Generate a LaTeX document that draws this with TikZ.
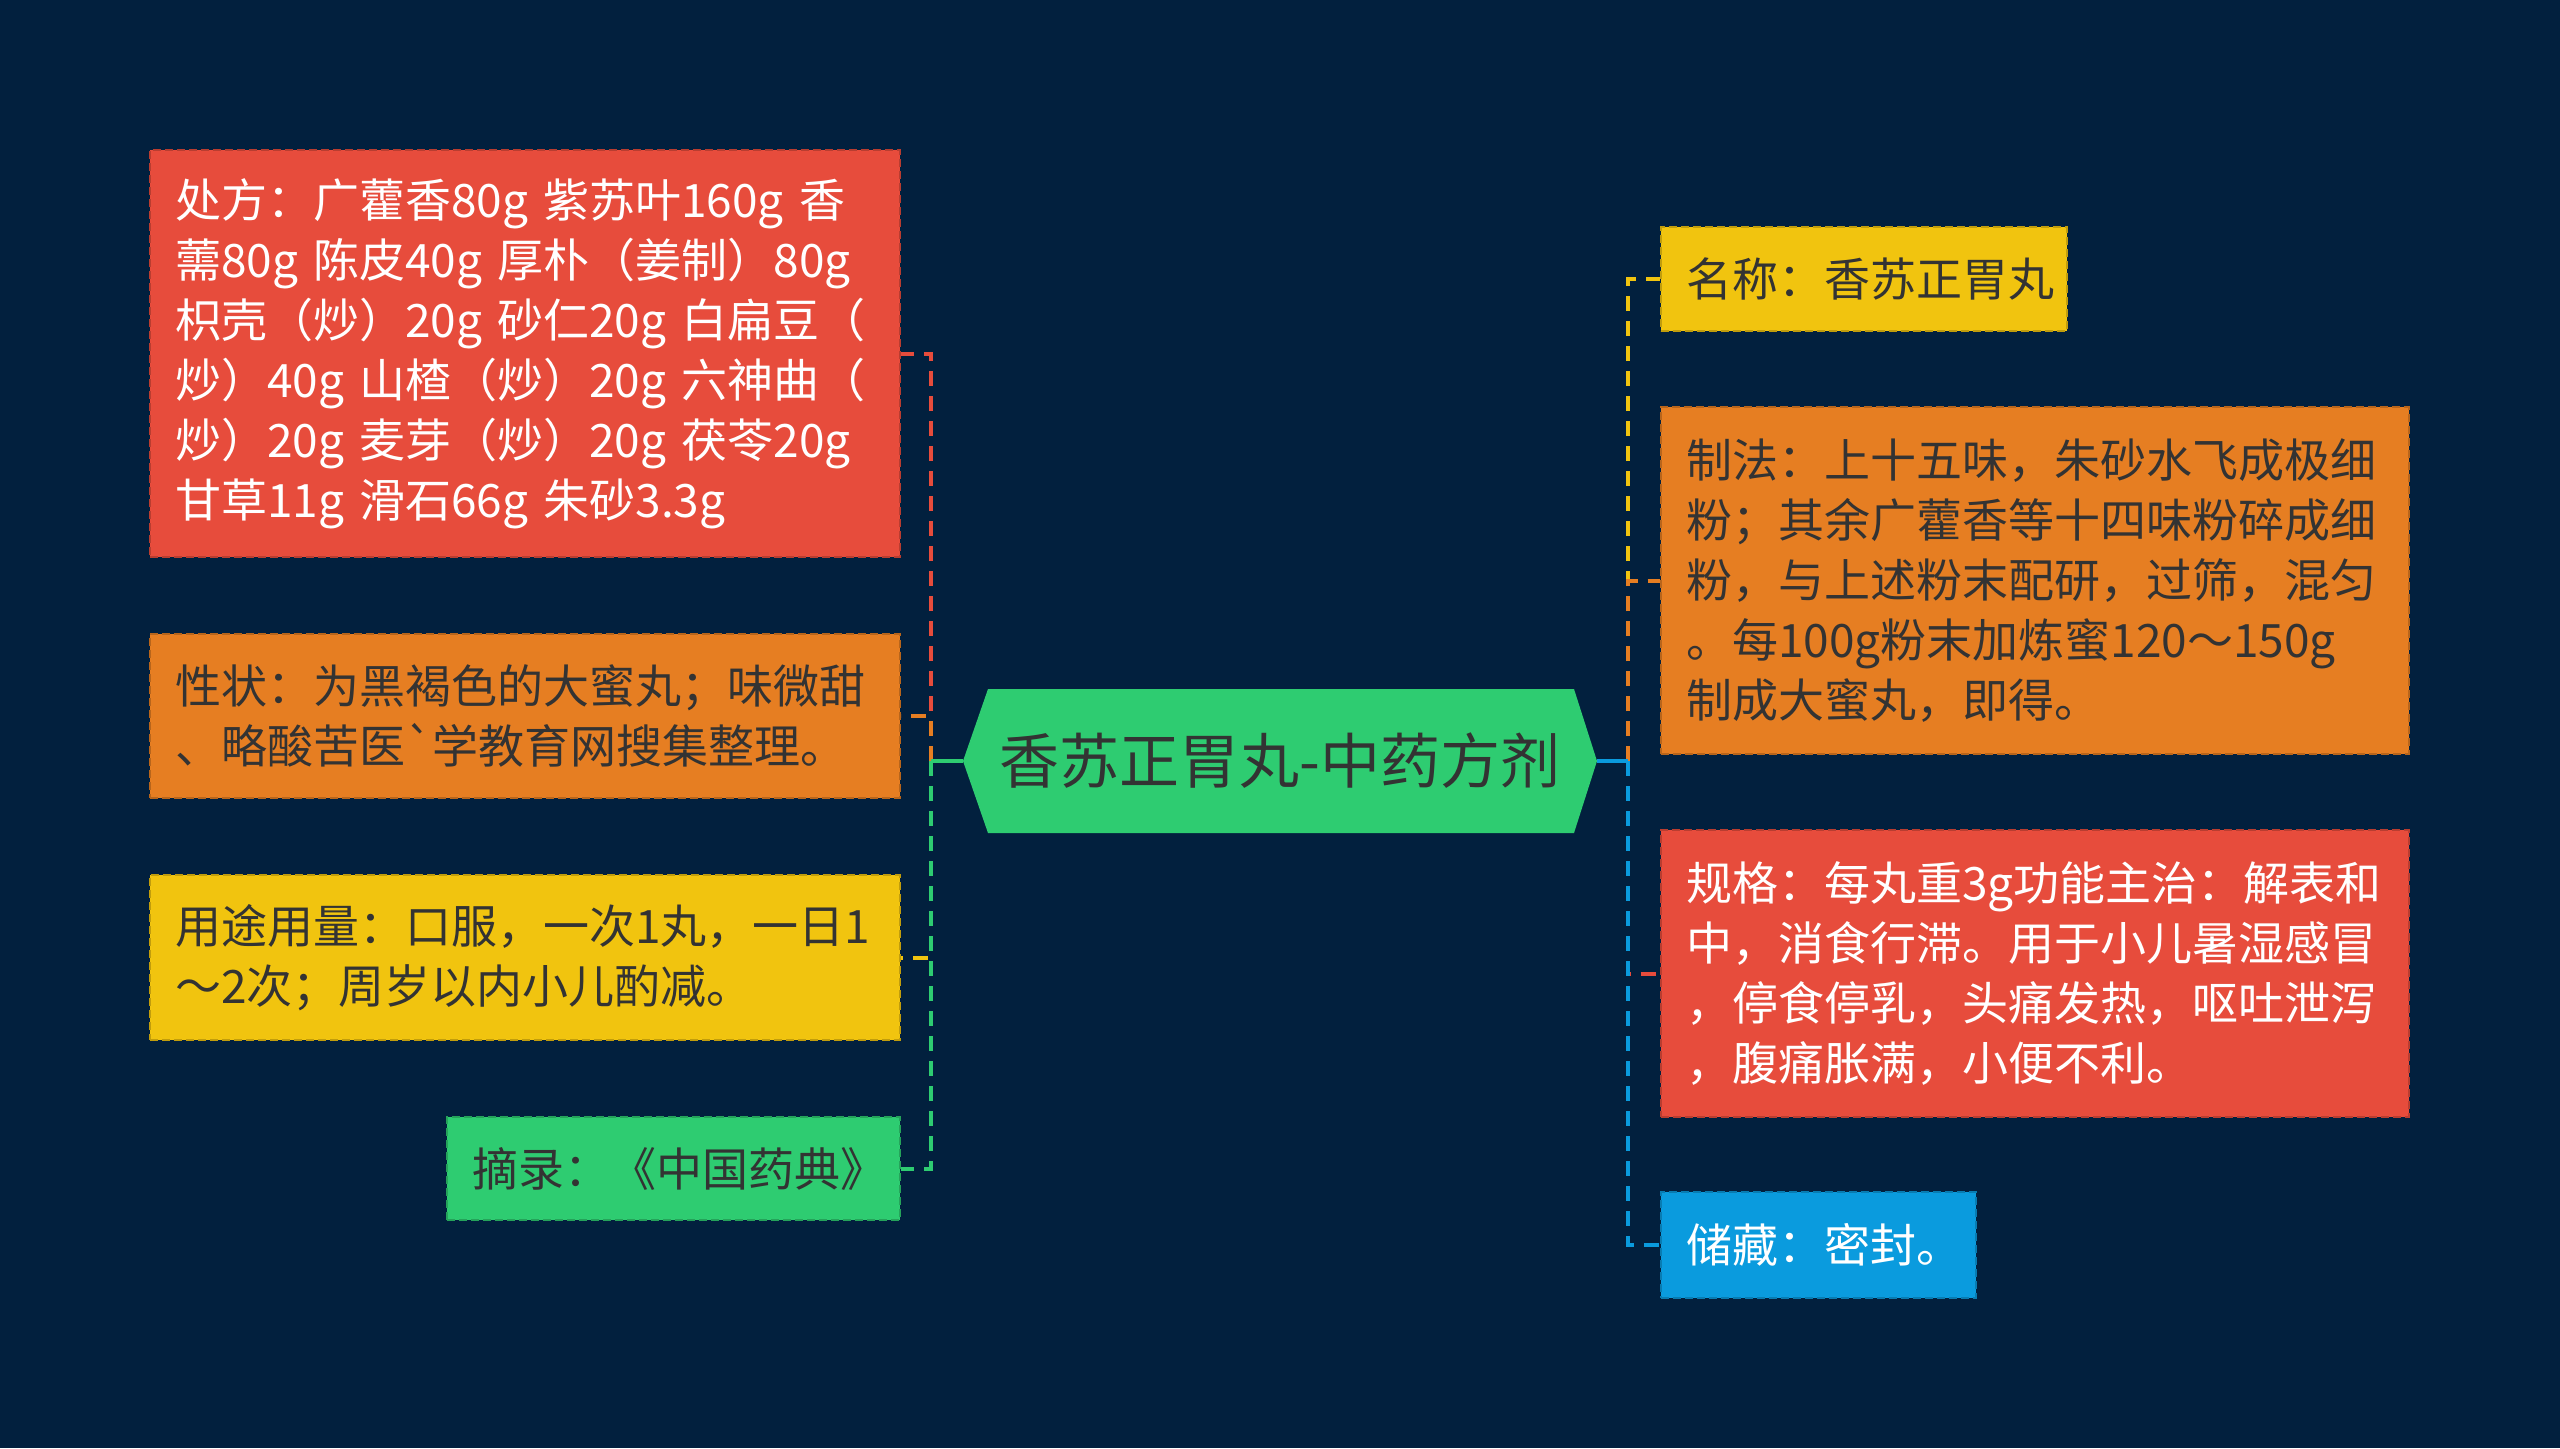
\documentclass[tikz,border=0pt]{standalone}
\usepackage{fontspec}
\setmainfont{Noto Sans CJK SC}[Ligatures=TeXOff]
\definecolor{bg}{HTML}{02203E}
\definecolor{cred}{HTML}{E74C3C}
\definecolor{corange}{HTML}{E67E22}
\definecolor{cyellow}{HTML}{F1C40F}
\definecolor{cgreen}{HTML}{2ECC71}
\definecolor{cblue}{HTML}{0A9BDE}
\definecolor{ink}{HTML}{333333}
\begin{document}
\begin{tikzpicture}[x=0.5pt,y=-0.5pt,
  box/.style={rectangle, align=left, inner xsep=12.5pt, inner ysep=0pt,
    font=\fontsize{23}{30}\selectfont, dash pattern=on 4pt off 2pt, line width=1pt},
  redbox/.style={box, fill=cred, draw=cred!80!black, text=white},
  orangebox/.style={box, fill=corange, draw=corange!80!black, text=ink},
  yellowbox/.style={box, fill=cyellow, draw=cyellow!80!black, text=ink},
  greenbox/.style={box, fill=cgreen, draw=cgreen!80!black, text=ink},
  bluebox/.style={box, fill=cblue, draw=cblue!80!black, text=white},
  conn/.style={line width=2pt, dash pattern=on 7.5pt off 5pt},
  trunk/.style={line width=2pt}]
\useasboundingbox (0,0) rectangle (2560,1448);
\fill[bg] (0,0) rectangle (2560,1448);

% centre
\fill[cgreen] (963,761) -- (988,689) -- (1574,689) -- (1597,761) -- (1574,833) -- (988,833) -- cycle;
\node[text=ink, font=\fontsize{30}{36}\selectfont, inner sep=0pt] (ctr) at (1280,761) {香苏正胃丸-中药方剂};
\coordinate (cl) at (963,761);
\coordinate (lt) at (931,761);
\coordinate (cr) at (1597,761);
\coordinate (rt) at (1628,761);

% left
\node[redbox, text width=350pt, minimum height=203.5pt] (A) at (525,353.5) {处方：广藿香80g 紫苏叶160g 香\\薷80g 陈皮40g 厚朴（姜制）80g\\枳壳（炒）20g 砂仁20g 白扁豆（\\炒）40g 山楂（炒）20g 六神曲（\\炒）20g 麦芽（炒）20g 茯苓20g\\甘草11g 滑石66g 朱砂3.3g};
\node[orangebox, text width=350pt, minimum height=82pt] (B) at (525,716) {性状：为黑褐色的大蜜丸；味微甜\\、略酸苦医`学教育网搜集整理。};
\node[yellowbox, text width=350pt, minimum height=82.5pt] (C) at (525,957.5) {用途用量：口服，一次1丸，一日1\\～2次；周岁以内小儿酌减。};
\node[greenbox, text width=201.5pt, minimum height=51.5pt] (D) at (673.5,1168.5) {摘录：《中国药典》};

% right
\node[yellowbox, text width=178pt, minimum height=52pt] (E) at (1864,279) {名称：香苏正胃丸};
\node[orangebox, text width=349pt, minimum height=173.5pt] (F) at (2035,580.5) {制法：上十五味，朱砂水飞成极细\\粉；其余广藿香等十四味粉碎成细\\粉，与上述粉末配研，过筛，混匀\\。每100g粉末加炼蜜120～150g\\制成大蜜丸，即得。};
\node[redbox, text width=349pt, minimum height=143.5pt] (G) at (2035,973.5) {规格：每丸重3g功能主治：解表和\\中，消食行滞。用于小儿暑湿感冒\\，停食停乳，头痛发热，呕吐泄泻\\，腹痛胀满，小便不利。};
\node[bluebox, text width=132.5pt, minimum height=53pt] (H) at (1818.5,1245) {储藏：密封。};

% connectors left
\draw[conn, cred] (lt) |- (A.east);
\draw[conn, corange] (lt) |- (B.east);
\draw[conn, cyellow] (lt) |- (C.east);
\draw[conn, cgreen] (lt) |- (D.east);
\draw[trunk, cgreen] (cl) -- (lt);

% connectors right
\draw[conn, cyellow] (rt) |- (E.west);
\draw[conn, corange] (rt) |- (F.west);
\draw[conn, cred] (rt) |- (G.west);
\draw[conn, cblue] (rt) |- (H.west);
\draw[trunk, cblue] (cr) -- (rt);
\end{tikzpicture}
\end{document}
